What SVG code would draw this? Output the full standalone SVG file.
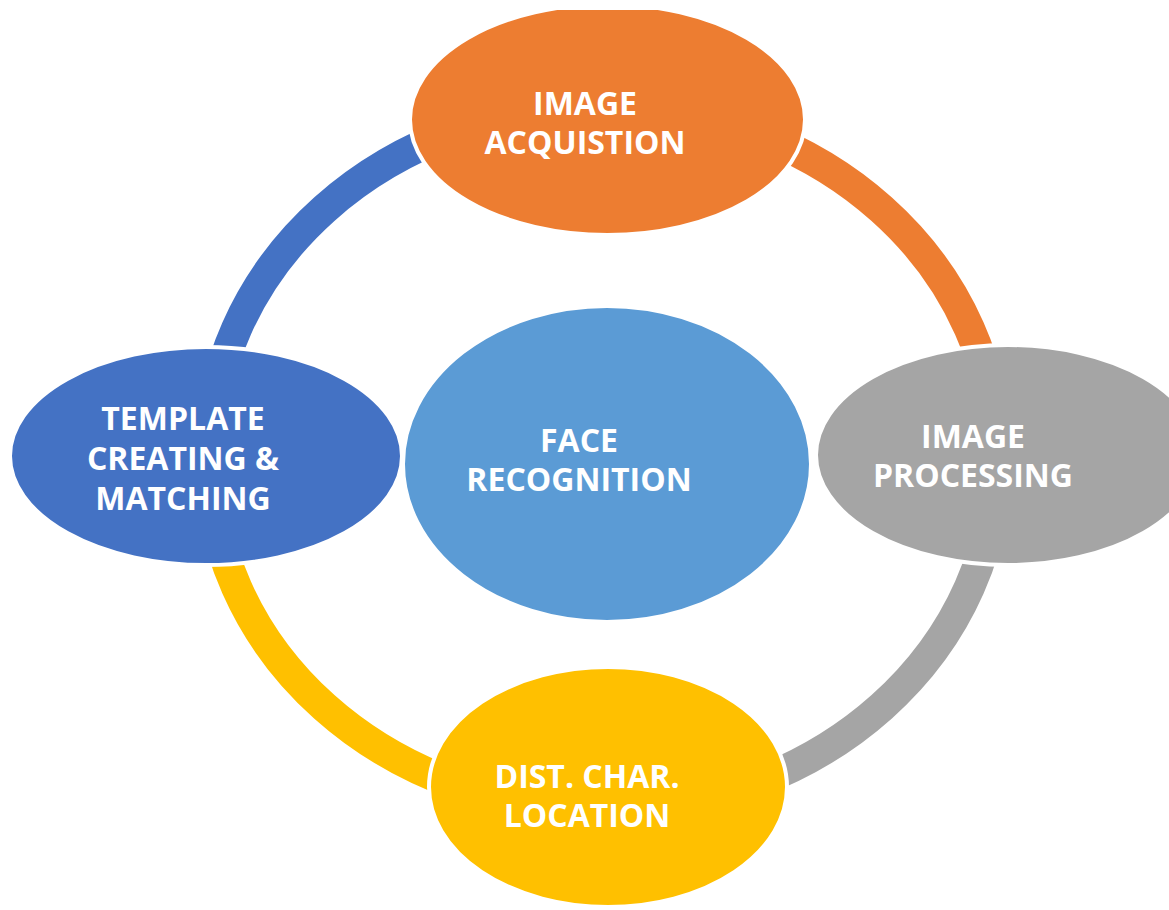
<svg xmlns="http://www.w3.org/2000/svg" width="1169" height="910" viewBox="0 0 1169 910">
<style>
.arc{fill:none;stroke-width:31;stroke-linecap:butt}
.node{stroke:#FFFFFF;stroke-width:4}
.lbl{font-family:"Open Sans","Liberation Sans",sans-serif;font-weight:bold;font-size:32px;fill:#FFFFFF;text-anchor:middle}
</style>
<defs>
<clipPath id="topclip"><rect x="0" y="10" width="1169" height="900"/></clipPath>
</defs>
<rect width="1169" height="910" fill="#FFFFFF"/>
<g id="connectors">
<path class="arc" stroke="#4472C4" d="M209,458 A394,352 0 0 1 603,106"/>
<path class="arc" stroke="#ED7D31" d="M603,106 A394,352 0 0 1 997,458"/>
<path class="arc" stroke="#A5A5A5" d="M997,458 A394,352 0 0 1 603,810"/>
<path class="arc" stroke="#FFC000" d="M603,810 A394,352 0 0 1 209,458"/>
</g>
<g id="node-center">
<ellipse class="node" cx="607" cy="464" rx="204" ry="158" fill="#5B9BD5"/>
<text class="lbl" x="579" y="452">FACE</text>
<text class="lbl" x="579" y="491">RECOGNITION</text>
</g>
<g id="node-acquisition">
<ellipse class="node" cx="607.5" cy="119.6" rx="197.5" ry="115.4" fill="#ED7D31" clip-path="url(#topclip)"/>
<text class="lbl" x="585" y="115">IMAGE</text>
<text class="lbl" x="585" y="154">ACQUISTION</text>
</g>
<g id="node-processing">
<ellipse class="node" cx="1008" cy="455" rx="192" ry="110" fill="#A5A5A5"/>
<text class="lbl" x="973" y="448">IMAGE</text>
<text class="lbl" x="973" y="487">PROCESSING</text>
</g>
<g id="node-location">
<ellipse class="node" cx="608" cy="787" rx="179" ry="120" fill="#FFC000"/>
<text class="lbl" x="587" y="788">DIST. CHAR.</text>
<text class="lbl" x="587" y="827">LOCATION</text>
</g>
<g id="node-template">
<ellipse class="node" cx="206" cy="456" rx="196" ry="109" fill="#4472C4"/>
<text class="lbl" x="183" y="430">TEMPLATE</text>
<text class="lbl" x="183" y="470">CREATING &amp;</text>
<text class="lbl" x="183" y="510">MATCHING</text>
</g>
</svg>
